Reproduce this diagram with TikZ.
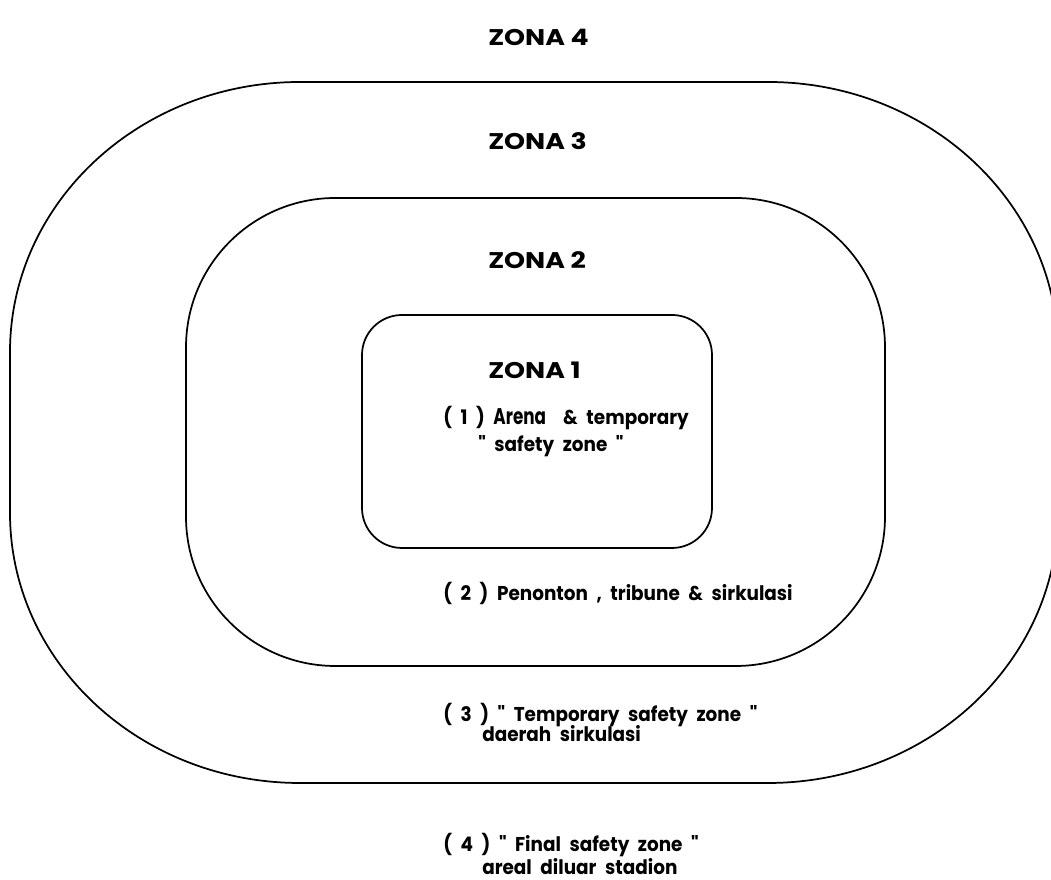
\documentclass[tikz,border=0pt]{standalone}
\usepackage{fontspec}
\setmainfont{Poppins}
\newfontfamily\zonafont{Poppins}[FakeStretch=1.18]
\newfontfamily\notefont{Poppins}[FakeStretch=0.92,WordSpace=2.2]
\newfontfamily\arenafont{Poppins}[FakeStretch=0.74]

\begin{document}
\begin{tikzpicture}[x=0.75pt,y=0.75pt,
    zona/.style={anchor=base west,inner sep=0pt,font=\zonafont\bfseries\fontsize{17}{20}\selectfont},
    note/.style={anchor=base west,inner sep=0pt,font=\notefont\bfseries\fontsize{15}{18}\selectfont},
    ring/.style={line width=1.3pt}]
    \useasboundingbox (0,0) rectangle (1051,880);
    \clip (0,0) rectangle (1051,880);

    % zona 3 boundary (outer)
    \draw[ring] (300,798) -- (768,798)
        arc[start angle=90,end angle=0,x radius=290,y radius=270] -- (1058,367)
        arc[start angle=0,end angle=-90,x radius=290,y radius=270] -- (300,97)
        arc[start angle=270,end angle=180,x radius=290,y radius=270] -- (10,528)
        arc[start angle=180,end angle=90,x radius=290,y radius=270] -- cycle;
    % zona 2 boundary
    \draw[ring,rounded corners=112pt] (186,214) rectangle (885,682);
    % zona 1 boundary
    \draw[ring,rounded corners=30pt] (362,332) rectangle (712,565);

    \node[zona] (z4) at (488,834) {ZONA 4};
    \node[zona] (z3) at (488,730) {ZONA 3};
    \node[zona] (z2) at (488,611) {ZONA 2};
    \node[zona] (z1) at (488,501) {ZONA 1};

    \node[note] (n1a) at (443,455) {( 1 ) {\arenafont\bfseries\fontsize{17}{20}\selectfont Arena} \ \& temporary};
    \node[note] (n1b) at (478,428) {" safety zone "};
    \node[note] (n2) at (443,279) {( 2 ) Penonton , tribune \& sirkulasi};
    \node[note] (n3a) at (443,158) {( 3 ) " Temporary safety zone "};
    \node[note] (n3b) at (482,138) {daerah sirkulasi};
    \node[note] (n4a) at (443,28) {( 4 ) " Final safety zone "};
    \node[note] (n4b) at (482,5) {areal diluar stadion};
\end{tikzpicture}
\end{document}
